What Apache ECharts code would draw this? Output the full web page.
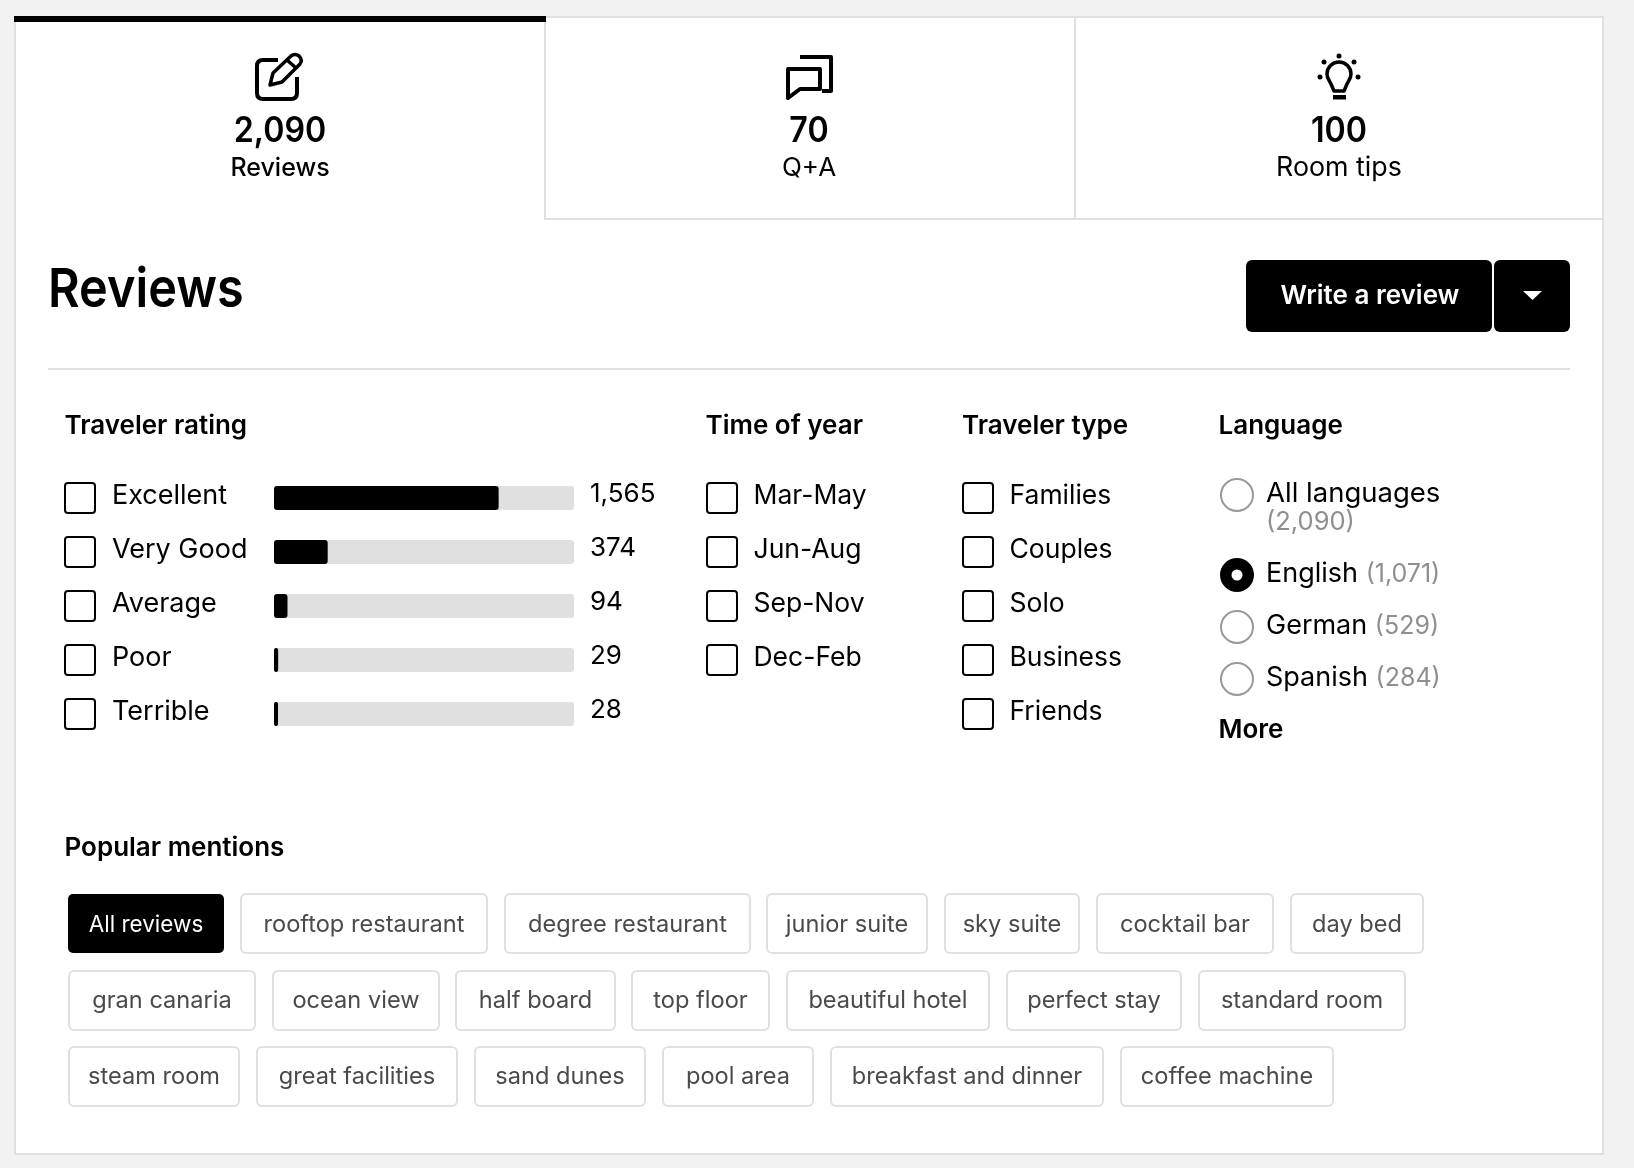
<!DOCTYPE html>
<html>
<head>
<meta charset="utf-8">
<title>Reviews</title>
<style>
  html, body { margin: 0; padding: 0; background: #f2f2f2; }
  #main { width: 1634px; height: 1168px; }
</style>
<script src="https://cdn.jsdelivr.net/npm/echarts@6/dist/echarts.min.js"></script>
</head>
<body>
<div id="main"></div>
<script>
// values
var ratingLabels = ['Excellent', 'Very Good', 'Average', 'Poor', 'Terrible'];
var ratingCounts = [1565, 374, 94, 29, 28];
var totalReviews = 2090;

var tabCounts = ['2,090', '70', '100'];
var tabLabels = ['Reviews', 'Q+A', 'Room tips'];

var timeOfYear = ['Mar-May', 'Jun-Aug', 'Sep-Nov', 'Dec-Feb'];
var travelerTypes = ['Families', 'Couples', 'Solo', 'Business', 'Friends'];
var languages = ['English', 'German', 'Spanish'];
var languageCounts = ['(1,071)', '(529)', '(284)'];

var mentionRows = [
  ['All reviews', 'rooftop restaurant', 'degree restaurant', 'junior suite', 'sky suite', 'cocktail bar', 'day bed'],
  ['gran canaria', 'ocean view', 'half board', 'top floor', 'beautiful hotel', 'perfect stay', 'standard room'],
  ['steam room', 'great facilities', 'sand dunes', 'pool area', 'breakfast and dinner', 'coffee machine']
];

// layout, separate from the data
var FONT = 'Inter, "Noto Sans", sans-serif';
var LINE = '#e0e0e0';
var GREY = '#8f8f8f';
var tabCenters = [280, 809, 1339];
var tabLabelSizes = [25, 26, 26.8];
var rowYs = [498, 552, 606, 660, 714];
var chipRowTops = [894, 971, 1047];
var chipEdges = [
  [[68, 224], [241, 487], [505, 750], [767, 927], [945, 1079], [1097, 1273], [1291, 1423]],
  [[69, 255], [273, 439], [456, 615], [632, 769], [787, 989], [1007, 1181], [1199, 1405]],
  [[69, 239], [257, 457], [475, 645], [663, 813], [831, 1103], [1121, 1333]]
];

function rect(x, y, w, h, fill, stroke, r, lw) {
  return {
    type: 'rect',
    shape: { x: x, y: y, width: w, height: h, r: r || 0 },
    style: { fill: fill, stroke: stroke || null, lineWidth: lw || 0 },
    silent: true
  };
}
function text(str, x, y, size, weight, color, align, scaleX) {
  return {
    type: 'text',
    x: x,
    y: y,
    scaleX: scaleX || 1,
    style: {
      text: str,
      font: weight + ' ' + size + 'px ' + FONT,
      fill: color || '#000',
      align: align || 'left',
      verticalAlign: 'middle'
    },
    silent: true
  };
}
var pathCount = 0;
function path(d, stroke, lw, fill) {
  var name = 'iconPath' + (pathCount++);
  echarts.graphic.registerShape(name, echarts.graphic.extendPath(d));
  return {
    type: name,
    style: { fill: fill || null, stroke: stroke || null, lineWidth: lw || 0, lineJoin: 'round' },
    silent: true
  };
}
function circle(cx, cy, r, fill, stroke, lw) {
  return {
    type: 'circle',
    shape: { cx: cx, cy: cy, r: r },
    style: { fill: fill, stroke: stroke || null, lineWidth: lw || 0 },
    silent: true
  };
}
function checkbox(x, y) {
  return rect(x, y, 30, 30, '#fff', '#000', 3, 2);
}

var els = [];

// panel + tabs
els.push(rect(15, 17, 1588, 1137, '#fff', LINE, 0, 2));
els.push(rect(545, 218, 1058, 2, LINE));
els.push(rect(544, 17, 2, 203, LINE));
els.push(rect(1074, 17, 2, 203, LINE));
els.push(rect(14, 16, 532, 6, '#000'));

// tab icons
els.push(path('M278 60 L263 60 Q257 60 257 66 L257 93 Q257 99 263 99 L291 99 Q297 99 297 93 L297 77', '#000', 4));
els.push(path('M270 85 L273 73 L291 56 Q295 53 299 56 Q303 60 300 64 L282 82 Z M287 60 L296 68', '#000', 3.5));
els.push(path('M800 57 H831 V91 H822', '#000', 4));
els.push(path('M788 69 H820 V89 H800 L788 98 Z', '#000', 4));
els.push(path('M1334 91 L1344 91 L1347 84 C1349 80 1351 78 1351 74 A12 12 0 0 0 1327 74 C1327 78 1329 80 1331 84 Z', '#000', 3.5));
els.push(rect(1333, 95, 13, 4.5, '#000'));
[[1339, 56], [1324, 62], [1354, 62], [1320, 77], [1358, 77]].forEach(function (p) {
  els.push(circle(p[0], p[1], 2.5, '#000'));
});

tabCounts.forEach(function (c, i) {
  els.push(text(c, tabCenters[i], 131, 35, 600, '#000', 'center', 0.92));
  els.push(text(tabLabels[i], tabCenters[i], 168, tabLabelSizes[i], i === 0 ? 500 : 400, '#000', 'center'));
});

// header row
els.push(text('Reviews', 48, 291, 54, 600, '#000', 'left', 0.9));
els.push(rect(1246, 260, 246, 72, '#000', null, 6));
els.push(rect(1494, 260, 76, 72, '#000', null, 6));
els.push(text('Write a review', 1370, 296, 26, 600, '#fff', 'center'));
els.push(path('M1523 291 H1542 L1532.5 300 Z', null, 0, '#fff'));
els.push(rect(48, 368, 1522, 2, LINE));

// filter headings
els.push(text('Traveler rating', 64.5, 426, 26, 600));
els.push(text('Time of year', 705.5, 426, 26, 600));
els.push(text('Traveler type', 962, 426, 26, 600));
els.push(text('Language', 1218.5, 426, 26, 600));

// checkboxes
ratingLabels.forEach(function (l, i) {
  els.push(checkbox(65, rowYs[i] - 15));
});
timeOfYear.forEach(function (l, i) {
  els.push(checkbox(707, rowYs[i] - 15));
  els.push(text(l, 753.5, rowYs[i] - 2, 26.5, 400));
});
travelerTypes.forEach(function (l, i) {
  els.push(checkbox(963, rowYs[i] - 15));
  els.push(text(l, 1009.5, rowYs[i] - 2, 26.5, 400));
});

// language radios
els.push(circle(1237, 495, 16, '#fff', '#999', 2));
els.push(text('All languages', 1266, 494, 27.5, 400));
els.push(text('(2,090)', 1266, 522, 25.5, 400, GREY));
var langRadioYs = [575, 627, 679];
var langTextYs = [574, 626, 678];
languages.forEach(function (l, i) {
  if (i === 0) {
    els.push(circle(1237, langRadioYs[i], 17, '#000'));
    els.push(circle(1237, langRadioYs[i], 5.5, '#fff'));
  } else {
    els.push(circle(1237, langRadioYs[i], 16, '#fff', '#999', 2));
  }
  var t = text('{a|' + l + '} {b|' + languageCounts[i] + '}', 1266, langTextYs[i], 27, 400);
  t.style.rich = {
    a: { font: '400 27px ' + FONT, fill: '#000' },
    b: { font: '400 25px ' + FONT, fill: GREY }
  };
  els.push(t);
});
els.push(text('More', 1218.5, 730, 26, 600));

// popular mentions
els.push(text('Popular mentions', 64.5, 848, 26, 600));
mentionRows.forEach(function (row, r) {
  row.forEach(function (label, i) {
    var edge = chipEdges[r][i];
    var on = r === 0 && i === 0;
    els.push(rect(edge[0], chipRowTops[r], edge[1] - edge[0], 59, on ? '#000' : '#fff', on ? null : LINE, 5, on ? 0 : 2));
    els.push(text(label, (edge[0] + edge[1]) / 2, chipRowTops[r] + (r === 0 ? 31 : 30), on ? 22.5 : 23.6, 400, on ? '#fff' : '#4a4a4a', 'center'));
  });
});

var chart = echarts.init(document.getElementById('main'));

var option = {
  backgroundColor: '#f2f2f2',
  animation: false,
  graphic: { elements: els },
  grid: { left: 274, top: 471, width: 300, height: 270 },
  xAxis: { type: 'value', min: 0, max: totalReviews, show: false },
  yAxis: [
    {
      type: 'category',
      inverse: true,
      data: ratingLabels,
      axisLine: { show: false },
      axisTick: { show: false },
      axisLabel: {
        align: 'left',
        margin: 162,
        verticalAlign: 'bottom',
        lineHeight: 4,
        fontFamily: FONT,
        fontSize: 27,
        color: '#000'
      }
    },
    {
      type: 'category',
      inverse: true,
      position: 'right',
      data: ratingCounts.map(function (v) { return v.toLocaleString('en-US'); }),
      axisLine: { show: false },
      axisTick: { show: false },
      axisLabel: {
        align: 'left',
        margin: 16,
        verticalAlign: 'bottom',
        lineHeight: 8,
        fontFamily: FONT,
        fontSize: 26,
        color: '#000'
      }
    }
  ],
  series: [
    {
      type: 'bar',
      data: ratingCounts,
      barWidth: 24,
      showBackground: true,
      backgroundStyle: { color: '#e0e0e0', borderRadius: 3 },
      itemStyle: { color: '#000', borderRadius: 3 },
      silent: true
    }
  ]
};

chart.setOption(option);
</script>
</body>
</html>
